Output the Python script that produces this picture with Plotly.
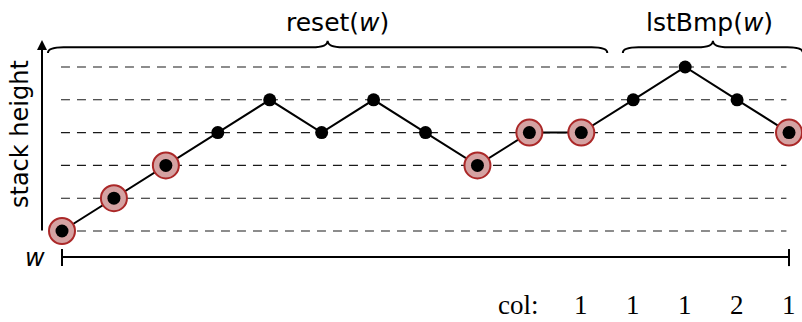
import plotly.graph_objects as go

# Data
steps = list(range(15))
heights = [0, 1, 2, 3, 4, 3, 4, 3, 2, 3, 3, 4, 5, 4, 3]
marked = [0, 1, 2, 8, 9, 10, 14]
levels = [0, 1, 2, 3, 4, 5]
col_steps = [10, 11, 12, 13, 14]
col_labels = ["1", "1", "1", "2", "1"]
brace_labels = ["reset(<i>w</i>)", "lstBmp(<i>w</i>)"]
brace_spans = [(-0.27, 10.5), (10.8, 14.27)]
label_centers = [5.3, 12.47]

W, H = 802, 322
X0PX, DX = 62, 51.93
Y0PX, DY = 231, 32.8
xr = [-X0PX / DX, (W - X0PX) / DX]
yr = [(Y0PX - H) / DY, Y0PX / DY]

SANS = "DejaVu Sans"
SERIF = "Liberation Serif"
fig = go.Figure()

shapes = []
for lv in levels:
    shapes.append(dict(type="line", xref="x", yref="y", x0=-0.02, x1=13.95, y0=lv, y1=lv,
                       line=dict(color="#1a1a1a", width=1.1, dash="9px,7px"), layer="below"))

# braces
def brace(xa, xb, yt, yl, yp, r=0.3):
    xm = (xa + xb) / 2
    return (f"M {xa},{yt} Q {xa},{yl} {xa+r},{yl} L {xm-r},{yl} Q {xm},{yl} {xm},{yp} "
            f"Q {xm},{yl} {xm+r},{yl} L {xb-r},{yl} Q {xb},{yl} {xb},{yt}")

for (xa, xb) in brace_spans:
    shapes.append(dict(type="path", xref="x", yref="y",
                       path=brace(xa, xb, 5.43, 5.60, 5.80),
                       line=dict(color="black", width=2)))

# bottom w line
ybase = -0.79
shapes.append(dict(type="line", xref="x", yref="y", x0=0, x1=14, y0=ybase, y1=ybase,
                   line=dict(color="black", width=2)))
for xx in (0, 14):
    shapes.append(dict(type="line", xref="x", yref="y", x0=xx, x1=xx, y0=-0.55, y1=-1.07,
                       line=dict(color="black", width=2)))

fig.add_trace(go.Scatter(x=steps, y=heights, mode="lines",
                         line=dict(color="black", width=2), hoverinfo="skip"))
fig.add_trace(go.Scatter(x=[steps[i] for i in marked], y=[heights[i] for i in marked],
                         mode="markers",
                         marker=dict(size=26, color="#d5a2a2", line=dict(color="#ab2828", width=2)),
                         hoverinfo="skip"))
fig.add_trace(go.Scatter(x=steps, y=heights, mode="markers",
                         marker=dict(size=13, color="black"), hoverinfo="skip"))

ann = []
for xc, lab in zip(label_centers, brace_labels):
    ann.append(dict(x=xc, y=(Y0PX - 22) / DY, xref="x", yref="y", text=lab, showarrow=False,
                    font=dict(family=SANS, size=25, color="black")))
# y axis arrow
ax_x = -20 / DX
ann.append(dict(x=ax_x, y=5.82, ax=ax_x, ay=-0.03, xref="x", yref="y", axref="x", ayref="y",
                text="", showarrow=True, arrowhead=2, arrowsize=1, arrowwidth=2, arrowcolor="black"))
ann.append(dict(x=-42 / DX, y=(Y0PX - 134) / DY, xref="x", yref="y", text="stack height",
                textangle=-90, showarrow=False, font=dict(family=SANS, size=24, color="black")))
ann.append(dict(x=-27 / DX, y=(Y0PX - 258) / DY, xref="x", yref="y", text="<i>w</i>",
                showarrow=False, font=dict(family=SANS, size=24, color="black")))
ann.append(dict(x=(518 - X0PX) / DX, y=(Y0PX - 305) / DY, xref="x", yref="y", text="col:",
                showarrow=False, font=dict(family=SERIF, size=27, color="black")))
for s, lab in zip(col_steps, col_labels):
    ann.append(dict(x=s, y=(Y0PX - 305) / DY, xref="x", yref="y", text=lab, showarrow=False,
                    font=dict(family=SERIF, size=27, color="black")))

fig.update_layout(
    width=W, height=H, margin=dict(l=0, r=0, t=0, b=0),
    paper_bgcolor="white", plot_bgcolor="white", showlegend=False,
    xaxis=dict(range=xr, visible=False, fixedrange=True),
    yaxis=dict(range=yr, visible=False, fixedrange=True),
    shapes=shapes, annotations=ann,
)
fig.write_html("out.html", config={"displayModeBar": False},
               post_script="document.body.style.margin='0';document.body.style.overflow='hidden';")
